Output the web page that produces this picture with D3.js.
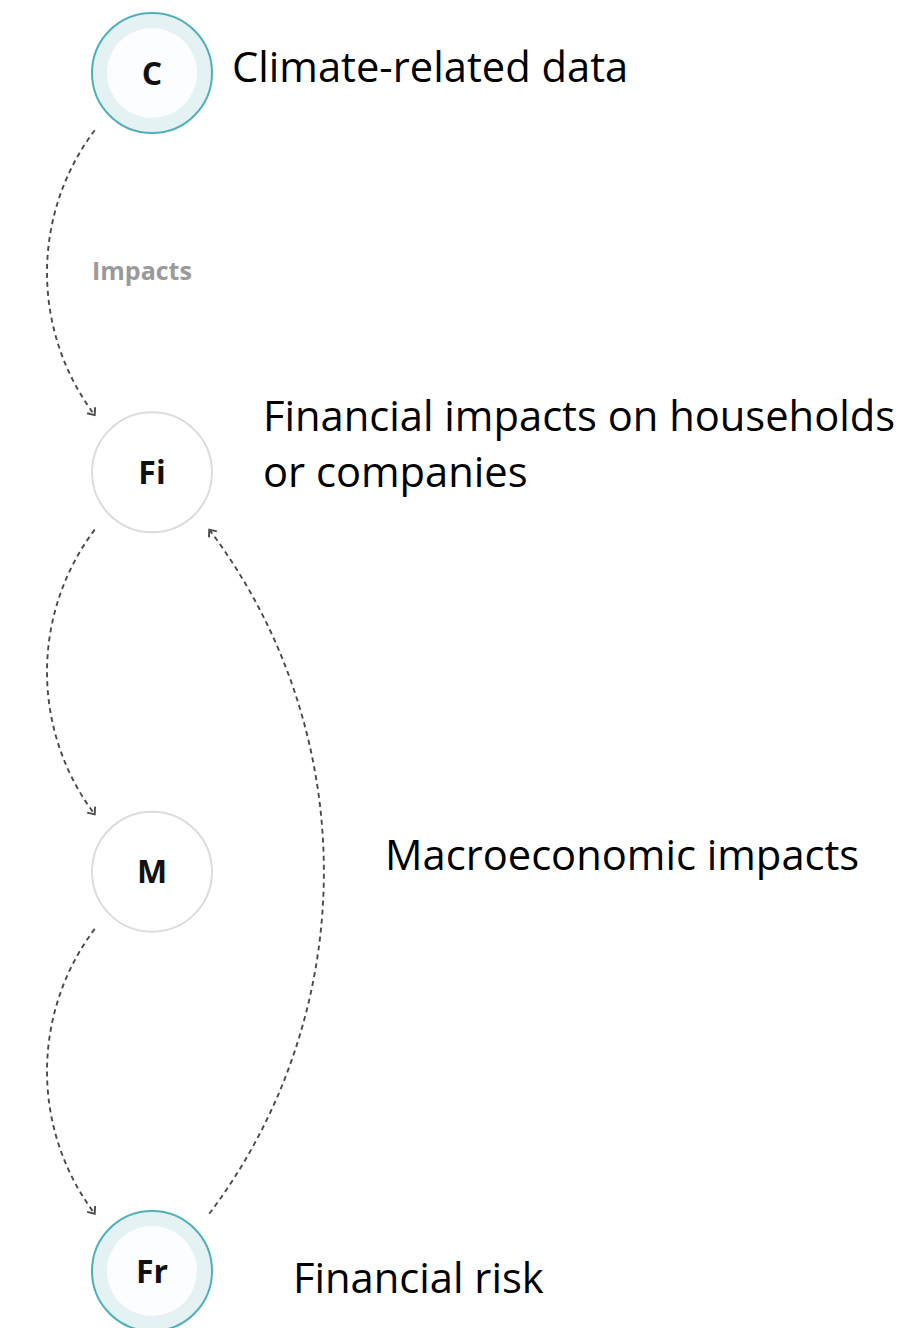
<!DOCTYPE html>
<html>
<head>
<meta charset="utf-8">
<script src="https://cdn.jsdelivr.net/npm/d3@7"></script>
<style>
  html, body { margin: 0; padding: 0; background: #fff; }
  svg { display: block; }
</style>
</head>
<body>
<svg></svg>
<script>
// nodes of the chain, top to bottom
const nodeIds = ["C", "Fi", "M", "Fr"];
const nodeKinds = ["key", "plain", "plain", "key"];
const nodeLabels = [
  ["Climate-related data"],
  ["Financial impacts on households", "or companies"],
  ["Macroeconomic impacts"],
  ["Financial risk"]
];
// links between nodes, side = which side the arc bulges to
const linkSources = ["C", "Fi", "M", "Fr"];
const linkTargets = ["Fi", "M", "Fr", "Fi"];
const linkSides = ["left", "left", "left", "right"];
const linkTexts = ["Impacts", "", "", ""];

const width = 906, height = 1328;
const svg = d3.select("svg").attr("width", width).attr("height", height);

const y = d3.scalePoint().domain(nodeIds).range([73, 1271]);
const cx = 152;
const R = 60, gap = 81;

const nodes = nodeIds.map((id, i) => ({id: id, kind: nodeKinds[i], label: nodeLabels[i], x: cx, y: y(id)}));
const byId = {};
nodes.forEach(d => byId[d.id] = d);

const links = linkSources.map((s, i) => ({source: byId[s], target: byId[linkTargets[i]], side: linkSides[i], text: linkTexts[i]}));

// arrowhead
svg.append("defs").append("marker")
    .attr("id", "arrow")
    .attr("markerUnits", "userSpaceOnUse")
    .attr("viewBox", "-10 -10 20 20")
    .attr("markerWidth", 20).attr("markerHeight", 20)
    .attr("refX", 0).attr("refY", 0)
    .attr("orient", "auto")
  .append("path")
    .attr("d", "M-6,-5 L0,0 L-6,5")
    .attr("fill", "none")
    .attr("stroke", "#4a4a4a")
    .attr("stroke-width", 1.9);

function linkPath(d) {
  const sx = d.side === "left" ? -1 : 1;
  const k = gap / Math.SQRT2;
  const dirS = d.target.y > d.source.y ? 1 : -1;
  const x0 = d.source.x + sx * k, y0 = d.source.y + dirS * k;
  const x1 = d.target.x + sx * k, y1 = d.target.y - dirS * k;
  const chord = Math.hypot(x1 - x0, y1 - y0);
  const r = chord * 0.83;
  return "M" + x0 + "," + y0 + " A" + r + "," + r + " 0 0 0 " + x1 + "," + y1;
}

svg.selectAll("path.link").data(links)
  .enter().append("path")
    .attr("class", "link")
    .attr("d", linkPath)
    .attr("fill", "none")
    .attr("stroke", "#4a4a4a")
    .attr("stroke-width", 1.9)
    .attr("stroke-dasharray", "5,4")
    .attr("marker-end", "url(#arrow)");

svg.selectAll("text.link-label").data(links.filter(d => d.text))
  .enter().append("text")
    .attr("class", "link-label")
    .attr("x", 92)
    .attr("y", d => (d.source.y + d.target.y) / 2 + 7)
    .attr("font-family", "'Open Sans', sans-serif")
    .attr("font-weight", "bold")
    .attr("font-size", 25)
    .attr("fill", "#9a9a9a")
    .text(d => d.text);

const node = svg.selectAll("g.node").data(nodes)
  .enter().append("g")
    .attr("class", "node")
    .attr("transform", d => "translate(" + d.x + "," + d.y + ")");

node.append("circle")
    .attr("r", R)
    .attr("fill", d => d.kind === "key" ? "#e4f2f4" : "#fff")
    .attr("stroke", d => d.kind === "key" ? "#4fb0b8" : "#dcdcdc")
    .attr("stroke-width", 2);

node.filter(d => d.kind === "key").append("circle")
    .attr("r", 45)
    .attr("fill", "#fbfdfe");

node.append("text")
    .attr("text-anchor", "middle")
    .attr("dy", "0.36em")
    .attr("font-family", "'Open Sans', sans-serif")
    .attr("font-weight", "bold")
    .attr("font-size", 32)
    .attr("fill", "#111")
    .text(d => d.id);

// descriptive labels beside each node
const labelX = {C: 232, Fi: 263, M: 385, Fr: 293};
const labelDy = {C: 9, Fi: -41, M: -2, Fr: 22};

svg.selectAll("text.desc").data(nodes)
  .enter().append("text")
    .attr("class", "desc")
    .attr("font-family", "'Open Sans', sans-serif")
    .attr("font-size", 41.7)
    .attr("fill", "#000")
    .each(function(d) {
      const t = d3.select(this);
      d.label.forEach((line, i) => {
        t.append("tspan")
          .attr("x", labelX[d.id])
          .attr("y", d.y + labelDy[d.id] + i * 56)
          .text(line);
      });
    });
</script>
</body>
</html>
